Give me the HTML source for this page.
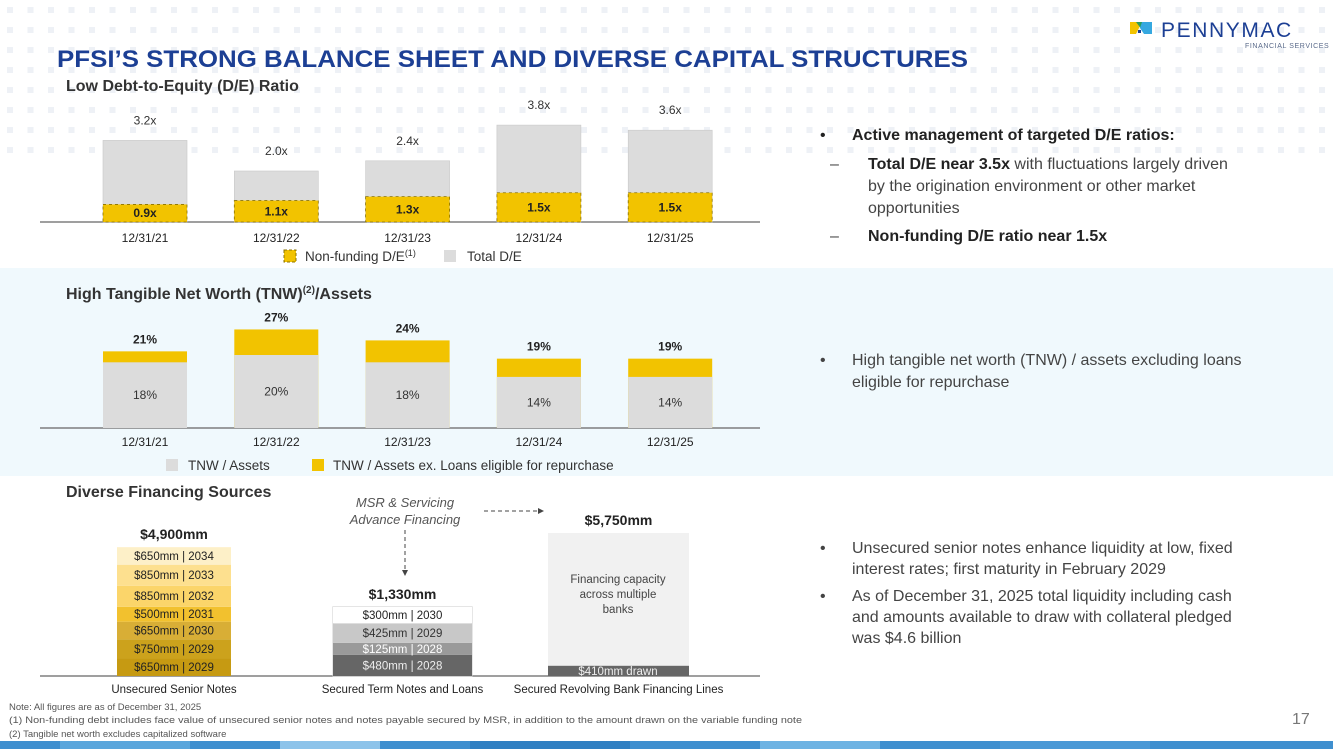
<!DOCTYPE html>
<html><head><meta charset="utf-8">
<style>
html,body{margin:0;padding:0;background:#fff;}
body{width:1333px;height:749px;overflow:hidden;position:relative;font-family:"Liberation Sans",sans-serif;}
svg text{font-family:"Liberation Sans",sans-serif;}
</style></head>
<body>
<svg id="page" width="1333" height="749" viewBox="0 0 1333 749" xmlns="http://www.w3.org/2000/svg">
<defs>
<pattern id="dots" x="0" y="0" width="20.5" height="20" patternUnits="userSpaceOnUse">
<rect x="7" y="7" width="6" height="6" fill="#eef1f6"/>
</pattern>
</defs>
<rect x="0" y="0" width="1333" height="160" fill="url(#dots)"/>
<rect x="0" y="268" width="1333" height="208" fill="#f0f9fd"/>

<g>
<polygon points="1130,22 1142,22 1136,34 1130,34" fill="#f2c300"/>
<polygon points="1136,22 1148,22 1142,30" fill="#2a9d5c"/>
<polygon points="1142,22 1152,22 1152,34 1144,34 1140,28" fill="#35a8e0"/>
<rect x="1138" y="30" width="3" height="3" fill="#1c3f94"/>
<text x="1161" y="37" font-size="21" fill="#1c3f94" letter-spacing="1.6">PENNYMAC</text>
<text x="1245" y="48" font-size="7" fill="#5a6a8a" letter-spacing="0.6">FINANCIAL SERVICES</text>
</g>

<text x="57" y="67" font-size="24" font-weight="bold" fill="#1c3f94" textLength="911" lengthAdjust="spacingAndGlyphs">PFSI’S STRONG BALANCE SHEET AND DIVERSE CAPITAL STRUCTURES</text>
<text x="66" y="91" font-size="16" font-weight="bold" fill="#333">Low Debt-to-Equity (D/E) Ratio</text>
<text x="66" y="299" font-size="16" font-weight="bold" fill="#333">High Tangible Net Worth (TNW)<tspan font-size="10" dy="-6">(2)</tspan><tspan dy="6">/Assets</tspan></text>
<text x="66" y="497" font-size="16" font-weight="bold" fill="#333">Diverse Financing Sources</text>

<g id="c1"></g><g id="c2"></g><g id="c3"></g>

<g font-size="16" fill="#444">
<text x="820" y="140" fill="#222">•</text>
<text x="852" y="140" font-weight="bold" fill="#222">Active management of targeted D/E ratios:</text>
<text x="830" y="169">–</text>
<text x="868" y="169"><tspan font-weight="bold" fill="#222">Total D/E near 3.5x</tspan> with fluctuations largely driven</text>
<text x="868" y="191">by the origination environment or other market</text>
<text x="868" y="213">opportunities</text>
<text x="830" y="241">–</text>
<text x="868" y="241" font-weight="bold" fill="#222">Non-funding D/E ratio near 1.5x</text>
</g>
<g font-size="16" fill="#444">
<text x="820" y="365">•</text>
<text x="852" y="365">High tangible net worth (TNW) / assets excluding loans</text>
<text x="852" y="387">eligible for repurchase</text>
</g>
<g font-size="16" fill="#444">
<text x="820" y="553">•</text>
<text x="852" y="553">Unsecured senior notes enhance liquidity at low, fixed</text>
<text x="852" y="574">interest rates; first maturity in February 2029</text>
<text x="820" y="601">•</text>
<text x="852" y="601">As of December 31, 2025 total liquidity including cash</text>
<text x="852" y="622">and amounts available to draw with collateral pledged</text>
<text x="852" y="643">was $4.6 billion</text>
</g>

<g font-size="9.5" fill="#555">
<text x="9" y="710">Note: All figures are as of December 31, 2025</text>
<text x="9" y="723" textLength="793" lengthAdjust="spacingAndGlyphs">(1) Non-funding debt includes face value of unsecured senior notes and notes payable secured by MSR, in addition to the amount drawn on the variable funding note</text>
<text x="9" y="737">(2) Tangible net worth excludes capitalized software</text>
</g>
<text x="1292" y="724" font-size="16" fill="#777">17</text>

<g>
<rect x="0" y="741" width="1333" height="8" fill="#3f8fcf"/>
<rect x="60" y="741" width="130" height="8" fill="#5aa6dc"/>
<rect x="280" y="741" width="100" height="8" fill="#8cc3ea"/>
<rect x="470" y="741" width="160" height="8" fill="#2f7fc2"/>
<rect x="760" y="741" width="120" height="8" fill="#6db3e3"/>
<rect x="1000" y="741" width="150" height="8" fill="#4a99d6"/>
</g>
</svg>

<script>
const NS='http://www.w3.org/2000/svg';
function mk(parent,tag,attrs,txt){const e=document.createElementNS(NS,tag);for(const k in attrs)e.setAttribute(k,attrs[k]);if(txt!==undefined)e.textContent=txt;parent.appendChild(e);return e;}

const deDates=['12/31/21','12/31/22','12/31/23','12/31/24','12/31/25'];
const totalDE=[3.2,2.0,2.4,3.8,3.6];
const nonFundingDE=[0.9,1.1,1.3,1.5,1.5];
const deLabels=['3.2x','2.0x','2.4x','3.8x','3.6x'];
const nfLabels=['0.9x','1.1x','1.3x','1.5x','1.5x'];

const tnwDates=['12/31/21','12/31/22','12/31/23','12/31/24','12/31/25'];
const tnwAssets=[18,20,18,14,14];
const tnwExLoans=[21,27,24,19,19];

const finCategories=['Unsecured Senior Notes','Secured Term Notes and Loans','Secured Revolving Bank Financing Lines'];
const finTotals=[4900,1330,5750];
const finTotalLabels=['$4,900mm','$1,330mm','$5,750mm'];
const unsecuredValues=[650,750,650,500,850,850,650];
const unsecuredLabels=['$650mm | 2029','$750mm | 2029','$650mm | 2030','$500mm | 2031','$850mm | 2032','$850mm | 2033','$650mm | 2034'];
const securedValues=[480,125,425,300];
const securedLabels=['$480mm | 2028','$125mm | 2028','$425mm | 2029','$300mm | 2030'];
const revolvingDrawn=[410];
const revolvingLabels=['$410mm drawn'];

const xCenter=i=>145+i*131.3;
const BW=84;

(function(){
 const g=document.getElementById('c1');const base=222;
 const yT=v=>base-v*25.5;
 const yN=v=>base-v*19.5;
 mk(g,'line',{x1:40,x2:760,y1:base,y2:base,stroke:'#666','stroke-width':1.2,});
 deDates.forEach((d,i)=>{
  const cx=xCenter(i);
  const t=mk(g,'rect',{x:cx-BW/2,y:yT(totalDE[i]),width:BW,height:base-yT(totalDE[i]),fill:'#dcdcdc',stroke:'#c8c8c8','stroke-width':0.6});
  
  
  const n=mk(g,'rect',{x:cx-BW/2,y:yN(nonFundingDE[i]),width:BW,height:base-yN(nonFundingDE[i]),fill:'#f2c300',stroke:'#8a7200','stroke-width':0.8,'stroke-dasharray':'3,3'});
  
  
  const l=mk(g,'text',{x:cx,y:yT(totalDE[i])-16,'text-anchor':'middle','font-size':12,fill:'#333'},deLabels[i]);
  
  
  const l2=mk(g,'text',{x:cx,y:(yN(nonFundingDE[i])+base)/2+4,'text-anchor':'middle','font-size':12,'font-weight':'bold',fill:'#222'},nfLabels[i]);
  
  
  const dl=mk(g,'text',{x:cx,y:base+20,'text-anchor':'middle','font-size':12,fill:'#222'},d);
  
  
 });
 const lg=mk(g,'g',{});
 
 
 mk(lg,'rect',{x:284,y:250,width:12,height:12,fill:'#f2c300',stroke:'#8a7200','stroke-dasharray':'3,2'});
 const t1=mk(lg,'text',{x:305,y:261,'font-size':13.5,fill:'#333'},'Non-funding D/E');
 mk(t1,'tspan',{'font-size':9,dy:-5},'(1)');
 mk(lg,'rect',{x:444,y:250,width:12,height:12,fill:'#dcdcdc'});
 mk(lg,'text',{x:467,y:261,'font-size':13.5,fill:'#333'},'Total D/E');
})();

(function(){
 const g=document.getElementById('c2');const base=428;
 const y=v=>base-v*3.65;
 mk(g,'line',{x1:40,x2:760,y1:base,y2:base,stroke:'#666','stroke-width':1.2,});
 tnwDates.forEach((d,i)=>{
  const cx=xCenter(i);
  const a=mk(g,'rect',{x:cx-BW/2,y:y(tnwExLoans[i]),width:BW,height:base-y(tnwExLoans[i]),fill:'#f2c300'});
  
  
  const b=mk(g,'rect',{x:cx-BW/2,y:y(tnwAssets[i]),width:BW,height:base-y(tnwAssets[i]),fill:'#dcdcdc'});
  
  
  const l=mk(g,'text',{x:cx,y:y(tnwExLoans[i])-8,'text-anchor':'middle','font-size':12,'font-weight':'bold',fill:'#222'},tnwExLoans[i]+'%');
  
  
  const l2=mk(g,'text',{x:cx,y:(y(tnwAssets[i])+base)/2+4,'text-anchor':'middle','font-size':12,fill:'#333'},tnwAssets[i]+'%');
  
  
  const dl=mk(g,'text',{x:cx,y:base+18,'text-anchor':'middle','font-size':12,fill:'#222'},d);
  
  
 });
 const lg=mk(g,'g',{});
 
 
 mk(lg,'rect',{x:166,y:459,width:12,height:12,fill:'#dcdcdc'});
 mk(lg,'text',{x:188,y:470,'font-size':13.5,fill:'#333'},'TNW / Assets');
 mk(lg,'rect',{x:312,y:459,width:12,height:12,fill:'#f2c300'});
 mk(lg,'text',{x:333,y:470,'font-size':13.5,fill:'#333'},'TNW / Assets ex. Loans eligible for repurchase');
})();

(function(){
 const g=document.getElementById('c3');const base=676;
 const hOf=v=>47+v*0.0167;
 const xs=[[117,114],[333,139],[548,141]];
 mk(g,'line',{x1:40,x2:760,y1:base,y2:base,stroke:'#666','stroke-width':1.2,});
 const yel=['#c69a12','#cca21c','#d8ae36','#f2c12e','#fbd56a','#fde08f','#fdf0c8'];
 const gry=['#666666','#9a9a9a','#c8c8c8','#ffffff'];
 const K=350;
 function stack(idx,vals,labs,cols,txtCols,fs){
  const H=hOf(finTotals[idx]);let cur=base;
  const sum=vals.reduce((a,b)=>a+b+K,0);
  vals.forEach((v,j)=>{
   const h=H*(v+K)/sum;
   const r=mk(g,'rect',{x:xs[idx][0],y:cur-h,width:xs[idx][1],height:h,fill:cols[j]});
   
   
   const t=mk(g,'text',{x:xs[idx][0]+xs[idx][1]/2,y:cur-h/2+4,'text-anchor':'middle','font-size':fs,fill:txtCols[j]},labs[j]);
   
   
   cur-=h;
  });
 }
 stack(0,unsecuredValues,unsecuredLabels,yel,yel.map(()=>'#222'),11.5);
 const H2=hOf(finTotals[1]);
 mk(g,'rect',{x:333,y:base-H2,width:139,height:H2,fill:'#fff',stroke:'#ccc','stroke-width':1});
 stack(1,securedValues,securedLabels,gry,['#eee','#fff','#333','#222'],11.5);
 const H3=hOf(finTotals[2]);
 const rv=mk(g,'rect',{x:548,y:base-H3,width:141,height:H3,fill:'#f1f1f1'});
 
 
 const dh=H3*revolvingDrawn[0]/finTotals[2];
 const dr=mk(g,'rect',{x:548,y:base-dh,width:141,height:dh,fill:'#666'});
 
 
 mk(g,'text',{x:618,y:base-1,'text-anchor':'middle','font-size':11.5,fill:'#eee'},revolvingLabels[0]);
 ['Financing capacity','across multiple','banks'].forEach((s,k)=>mk(g,'text',{x:618,y:583+k*15,'text-anchor':'middle','font-size':11.5,fill:'#444'},s));
 finCategories.forEach((c,i)=>{
  const cx=xs[i][0]+xs[i][1]/2;
  const t=mk(g,'text',{x:cx,y:693,'text-anchor':'middle','font-size':11.5,fill:'#222'},c);
  
  
  const tl=mk(g,'text',{x:cx,y:base-hOf(finTotals[i])-8,'text-anchor':'middle','font-size':14,'font-weight':'bold',fill:'#222'},finTotalLabels[i]);
  
  
 });
 const ann=mk(g,'g',{});
 
 
 mk(ann,'text',{x:405,y:507,'text-anchor':'middle','font-size':13,'font-style':'italic',fill:'#555'},'MSR & Servicing');
 mk(ann,'text',{x:405,y:524,'text-anchor':'middle','font-size':13,'font-style':'italic',fill:'#555'},'Advance Financing');
 mk(ann,'line',{x1:484,x2:538,y1:511,y2:511,stroke:'#444','stroke-dasharray':'4,3'});
 mk(ann,'polygon',{points:'538,508 544,511 538,514',fill:'#444'});
 mk(ann,'line',{x1:405,x2:405,y1:530,y2:570,stroke:'#444','stroke-dasharray':'4,3'});
 mk(ann,'polygon',{points:'402,570 405,576 408,570',fill:'#444'});
})();
</script>
</body></html>
